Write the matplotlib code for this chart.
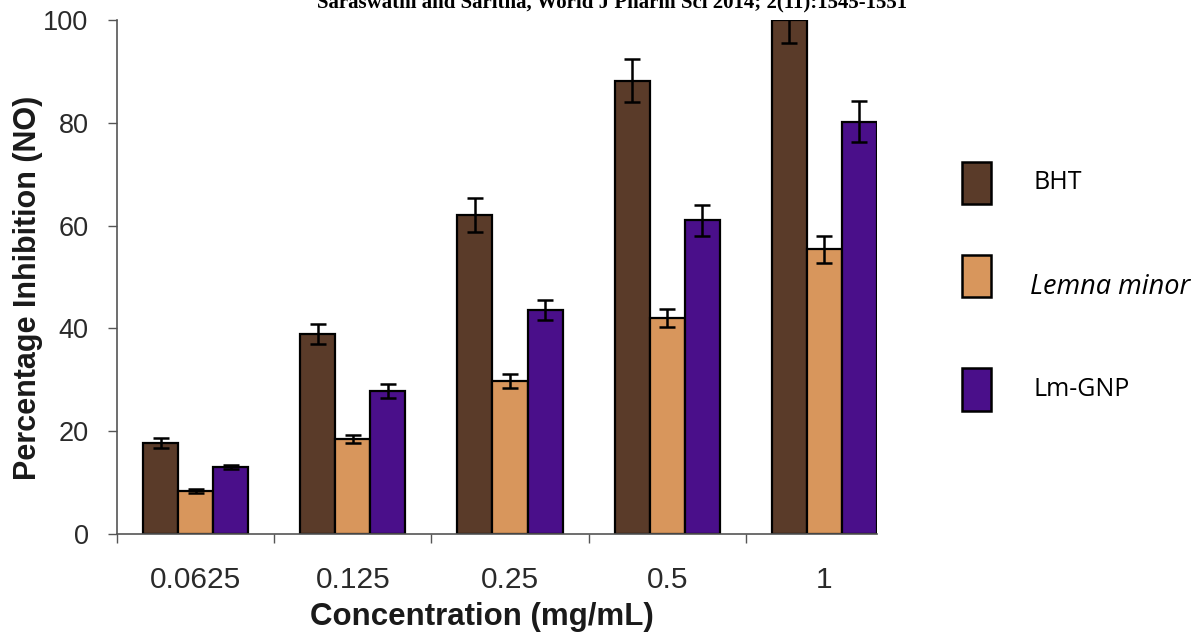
import matplotlib
matplotlib.use("Agg")
import matplotlib.pyplot as plt
from matplotlib.patches import Rectangle
import numpy as np

categories = ["0.0625", "0.125", "0.25", "0.5", "1"]
series_names = ["BHT", "Lemna minor", "Lm-GNP"]
bht = [17.7, 38.9, 62.0, 88.2, 100.0]
bht_err = [1.0, 2.0, 3.3, 4.2, 4.5]
lemna = [8.4, 18.5, 29.8, 42.0, 55.4]
lemna_err = [0.4, 0.8, 1.3, 1.8, 2.6]
lmgnp = [13.1, 27.8, 43.6, 61.0, 80.2]
lmgnp_err = [0.4, 1.4, 2.0, 3.0, 4.0]
yticks = [0, 20, 40, 60, 80, 100]

colors = ["#5a3b29", "#d8965c", "#4a0f8a"]

W, H = 1197, 638
fig = plt.figure(figsize=(W / 100, H / 100), dpi=100)
ax = fig.add_axes([117 / W, 1 - 534 / H, (877 - 117) / W, (534 - 20) / H])

bw = 0.223
x = np.arange(len(categories))
for i, (vals, errs) in enumerate([(bht, bht_err), (lemna, lemna_err), (lmgnp, lmgnp_err)]):
    pos = x + (i - 1) * bw
    ax.bar(pos, vals, width=bw, color=colors[i], edgecolor="black", linewidth=1.6, zorder=2)
    ax.errorbar(pos, vals, yerr=errs, fmt="none", ecolor="black", elinewidth=1.8,
                capsize=6, capthick=1.8, zorder=3)

ax.set_xlim(-0.5, len(categories) - 1 + 1.5 * bw)
ax.set_ylim(0, 100)
ax.set_yticks(yticks)
ax.set_yticklabels([str(v) for v in yticks])
ax.set_xticks(x)
ax.set_xticklabels(categories)
ax.set_xticks(np.arange(-0.5, len(categories) - 0.5, 1.0), minor=True)

for s in ["top", "right"]:
    ax.spines[s].set_visible(False)
for s in ["left", "bottom"]:
    ax.spines[s].set_color("#555555")
    ax.spines[s].set_linewidth(1.2)

ax.tick_params(axis="y", which="major", direction="out", length=6.5, width=1.0,
               color="#555555", pad=14, labelsize=19.5, labelcolor="#2a2a2a")
ax.tick_params(axis="x", which="major", length=0, pad=23, labelsize=21.5, labelcolor="#2a2a2a")
ax.tick_params(axis="x", which="minor", direction="out", length=6.5, width=1.0, color="#555555")
for lab in ax.get_xticklabels() + ax.get_yticklabels():
    lab.set_fontfamily("Liberation Sans")

fig.text(482 / W, 1 - 617 / H, "Concentration (mg/mL)", ha="center", va="center",
         fontsize=22.5, fontweight="bold", family="Liberation Sans", color="#1a1a1a")
fig.text(28 / W, 1 - 288 / H, "Percentage Inhibition (NO)", ha="center", va="center",
         rotation=90, fontsize=22, fontweight="bold", family="Liberation Sans", color="#1a1a1a")

fig.text(612 / W, 1 - 7 / H, "Saraswathi and Saritha, World J Pharm Sci 2014; 2(11):1545-1551",
         ha="center", va="baseline", fontsize=15, fontweight="bold", family="Liberation Serif")

# legend
leg = [(162, 204, 182, False, 18), (255, 297, 287, True, 19.5), (368, 411, 389, False, 18)]
for (y0, y1, ty, ital, fs), name, c in zip(leg, series_names, colors):
    r = Rectangle((962 / W, 1 - y1 / H), (991 - 962) / W, (y1 - y0) / H,
                  transform=fig.transFigure, facecolor=c, edgecolor="black", linewidth=1.8)
    fig.add_artist(r)
    fig.text((1030 if ital else 1034) / W, 1 - ty / H, name, ha="left", va="center",
             fontsize=fs, family="Open Sans", style="italic" if ital else "normal")

fig.savefig("out.png", dpi=100)
